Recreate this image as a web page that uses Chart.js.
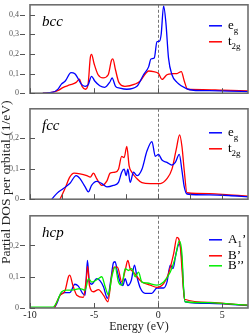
<!DOCTYPE html>
<html>
<head>
<meta charset="utf-8">
<script src="https://cdn.jsdelivr.net/npm/chart.js@4.4.0/dist/chart.umd.min.js"></script>
<style>
  body { margin: 0; background: #fff; }
  #wrap { position: relative; width: 249px; height: 334px; overflow: hidden; }
  #wrap canvas { position: absolute; left: 0; }
  #ytitle {
    position: absolute; left: -2px; top: 15px; width: 13px; height: 334px;
    writing-mode: vertical-rl; transform: rotate(180deg);
    text-align: center; line-height: 13px;
    font: 13.5px "Liberation Serif", serif; color: #222; white-space: nowrap;
  }
</style>
</head>
<body>
<div id="wrap">
  <canvas id="bcc" width="249" height="98" style="top:0px"></canvas>
  <canvas id="fcc" width="249" height="100" style="top:104px"></canvas>
  <canvas id="hcp" width="249" height="123" style="top:211px"></canvas>
  <div id="ytitle">Partial DOS per orbital (1/eV)</div>
</div>
<script>
// Energy axis
const energyMin = -10;
const energyMax = 7;
const energyTicks = [-10, -5, 0, 5];

// bcc e_g
const bccEgE = [-9.0, -8.2, -7.8, -7.55, -7.25, -6.8, -6.5, -6.25, -6.0, -5.7, -5.47, -5.2, -4.95, -4.56, -4.17, -3.77, -3.6, -3.33, -3.0, -2.45, -1.66, -1.15, -0.75, -0.57, -0.31, -0.1, 0.1, 0.23, 0.42, 0.6, 0.8, 1.07, 1.46, 2.24, 2.75, 4, 5.5, 7];
const bccEgV = [0, 0.005, 0.022, 0.046, 0.062, 0.105, 0.099, 0.075, 0.046, 0.035, 0.042, 0.086, 0.062, 0.038, 0.03, 0.057, 0.078, 0.035, 0.026, 0.02, 0.035, 0.094, 0.134, 0.174, 0.179, 0.262, 0.265, 0.30, 0.445, 0.357, 0.18, 0.094, 0.055, 0.022, 0.015, 0.013, 0.011, 0.008];
// bcc t_2g
const bccT2gE = [-9.0, -8.2, -7.8, -7.4, -6.9, -6.4, -6.15, -5.94, -5.67, -5.47, -5.3, -5.2, -5.0, -4.69, -4.3, -3.9, -3.65, -3.54, -3.33, -3.07, -2.6, -1.82, -1.4, -1.0, -0.75, -0.37, 0.02, 0.29, 0.68, 1.07, 1.46, 1.8, 2.03, 2.29, 3.5, 5, 7];
const bccT2gV = [0, 0.005, 0.014, 0.03, 0.042, 0.055, 0.072, 0.035, 0.02, 0.046, 0.18, 0.198, 0.15, 0.094, 0.078, 0.094, 0.166, 0.175, 0.118, 0.055, 0.035, 0.046, 0.062, 0.099, 0.113, 0.11, 0.1, 0.07, 0.094, 0.099, 0.1, 0.11, 0.062, 0.02, 0.018, 0.015, 0.012];

// fcc e_g
const fccEgE = [-8.3, -7.9, -7.4, -6.9, -6.4, -6.1, -5.7, -5.45, -5.2, -4.8, -4.4, -4.0, -3.5, -3.1, -2.85, -2.66, -2.5, -2.37, -2.19, -1.93, -1.66, -1.27, -0.88, -0.49, -0.23, 0.02, 0.29, 0.68, 1.07, 1.33, 1.64, 1.85, 2.03, 2.24, 4, 5.5, 7];
const fccEgV = [0, 0.019, 0.035, 0.051, 0.077, 0.067, 0.04, 0.024, 0.045, 0.058, 0.051, 0.04, 0.045, 0.055, 0.088, 0.098, 0.077, 0.098, 0.055, 0.088, 0.077, 0.098, 0.157, 0.188, 0.14, 0.146, 0.128, 0.12, 0.111, 0.12, 0.146, 0.093, 0.04, 0.017, 0.014, 0.012, 0.008];
// fcc t_2g
const fccT2gE = [-7.66, -7.27, -6.9, -6.56, -6.1, -5.57, -5.3, -5.05, -4.8, -4.4, -4.0, -3.75, -3.36, -3.1, -2.85, -2.66, -2.45, -2.27, -2.06, -1.66, -1.27, -0.62, 0.16, 0.68, 1.07, 1.4, 1.67, 1.85, 2.03, 2.24, 4, 5.5, 7];
const fccT2gV = [0, 0.035, 0.072, 0.085, 0.083, 0.077, 0.072, 0.085, 0.067, 0.045, 0.06, 0.085, 0.088, 0.098, 0.14, 0.136, 0.172, 0.109, 0.088, 0.067, 0.054, 0.051, 0.051, 0.067, 0.098, 0.162, 0.21, 0.172, 0.093, 0.021, 0.018, 0.014, 0.01];

// hcp A_1'
const hcpA1E = [-8.1, -7.9, -7.66, -7.27, -6.9, -6.5, -6.23, -5.9, -5.7, -5.52, -5.37, -5.18, -4.8, -4.53, -4.27, -3.96, -3.7, -3.49, -3.36, -3.18, -2.97, -2.76, -2.58, -2.37, -2.1, -1.85, -1.66, -1.4, -1.02, -0.5, -0.1, 0.42, 0.68, 0.94, 1.15, 1.38, 1.64, 1.85, 1.98, 2.1, 4, 5.5, 7];
const hcpA1V = [0, 0.015, 0.041, 0.049, 0.049, 0.076, 0.07, 0.047, 0.041, 0.152, 0.083, 0.076, 0.094, 0.087, 0.068, 0.031, 0.089, 0.145, 0.148, 0.114, 0.083, 0.072, 0.094, 0.072, 0.089, 0.137, 0.1, 0.064, 0.047, 0.047, 0.064, 0.064, 0.083, 0.137, 0.126, 0.173, 0.205, 0.152, 0.057, 0.02, 0.015, 0.012, 0.008];
// hcp B'
const hcpB1E = [-8.1, -7.9, -7.66, -7.27, -7.0, -6.9, -6.66, -6.35, -5.84, -5.62, -5.5, -5.37, -5.05, -4.66, -4.27, -3.93, -3.62, -3.44, -3.18, -2.84, -2.58, -2.37, -2.19, -1.93, -1.66, -1.27, -0.62, -0.1, 0.42, 0.8, 1.2, 1.46, 1.72, 1.93, 2.05, 4, 5.5, 7];
const hcpB1V = [0, 0.02, 0.04, 0.055, 0.1, 0.105, 0.073, 0.041, 0.034, 0.089, 0.133, 0.073, 0.052, 0.059, 0.041, 0.02, 0.105, 0.131, 0.131, 0.083, 0.12, 0.152, 0.126, 0.115, 0.1, 0.083, 0.073, 0.066, 0.078, 0.11, 0.173, 0.226, 0.196, 0.079, 0.028, 0.018, 0.013, 0.009];
// hcp B''
const hcpB2E = [-10, -8.2, -7.9, -7.53, -7.14, -6.75, -6.1, -5.7, -5.44, -5.18, -4.66, -4.4, -4.14, -3.88, -3.62, -3.36, -3.1, -2.84, -2.58, -2.32, -2.06, -1.8, -1.54, -1.27, -0.88, -0.1, 0.42, 0.94, 1.33, 1.64, 1.85, 1.98, 2.1, 4, 5.5, 7];
const hcpB2V = [0.003, 0.003, 0.02, 0.052, 0.057, 0.057, 0.062, 0.057, 0.094, 0.083, 0.094, 0.1, 0.068, 0.041, 0.1, 0.131, 0.083, 0.073, 0.126, 0.12, 0.126, 0.1, 0.115, 0.083, 0.08, 0.073, 0.083, 0.115, 0.162, 0.215, 0.173, 0.062, 0.02, 0.017, 0.013, 0.009];

const COLORS = { blue: '#0000ff', red: '#ff0000', green: '#00ee00' };
const SERIF = '"Liberation Serif", "DejaVu Serif", serif';

const toPoints = (xs, ys) => xs.map((x, i) => ({ x, y: ys[i] }));

/**
 * Frame, inward ticks, zero line, panel label and legend with subscripts
 */
const panelDecor = {
  id: 'panelDecor',
  beforeDatasetsDraw(chart) {
    const { ctx, chartArea: a, scales } = chart;
    const x0 = Math.round(scales.x.getPixelForValue(0)) + 0.5;
    ctx.save();
    ctx.strokeStyle = '#777';
    ctx.lineWidth = 1;
    ctx.setLineDash([3, 2]);
    ctx.beginPath();
    ctx.moveTo(x0, a.top);
    ctx.lineTo(x0, a.bottom);
    ctx.stroke();
    ctx.restore();
  },
  afterDatasetsDraw(chart, args, opts) {
    const { ctx, chartArea: a, scales } = chart;
    ctx.save();
    ctx.strokeStyle = '#6e6e6e';
    ctx.lineWidth = 1.6;
    ctx.strokeRect(a.left, a.top, a.right - a.left, a.bottom - a.top);

    ctx.lineWidth = 1;
    ctx.strokeStyle = '#555';
    ctx.beginPath();
    scales.x.ticks.forEach(t => {
      const px = Math.round(scales.x.getPixelForValue(t.value)) + 0.5;
      ctx.moveTo(px, a.bottom);
      ctx.lineTo(px, a.bottom - 5);
    });
    scales.y.ticks.forEach(t => {
      const py = Math.round(scales.y.getPixelForValue(t.value)) + 0.5;
      ctx.moveTo(a.left, py);
      ctx.lineTo(a.left + 5, py);
      ctx.moveTo(a.left - 10, py);
      ctx.lineTo(a.left - 5, py);
    });
    ctx.stroke();

    // panel label
    ctx.fillStyle = '#000';
    ctx.font = `italic 15px ${SERIF}`;
    ctx.textBaseline = 'alphabetic';
    ctx.fillText(opts.label, a.left + 12, a.top + 21);

    // legend
    const lx = a.right - 39;
    opts.legend.forEach((item, i) => {
      const ly = a.top + opts.legendOffsets[i];
      ctx.strokeStyle = item.color;
      ctx.lineWidth = 1.5;
      ctx.beginPath();
      ctx.moveTo(lx, ly);
      ctx.lineTo(lx + 13, ly);
      ctx.stroke();
      let tx = lx + 19;
      ctx.fillStyle = '#000';
      ctx.font = `13px ${SERIF}`;
      ctx.fillText(item.main, tx, ly + 3);
      tx += ctx.measureText(item.main).width;
      if (item.sub) {
        ctx.font = `9px ${SERIF}`;
        ctx.fillText(item.sub, tx, ly + 7);
        tx += ctx.measureText(item.sub).width;
      }
      if (item.after) {
        ctx.font = `13px ${SERIF}`;
        ctx.fillText(item.after, tx, ly + 3);
      }
    });
    ctx.restore();
  }
};

function lineSet(xs, ys, color, order) {
  return {
    data: toPoints(xs, ys),
    borderColor: color,
    borderWidth: 1.3,
    pointRadius: 0,
    fill: false,
    cubicInterpolationMode: 'monotone',
    order
  };
}

function makePanel(id, datasets, cfg) {
  const ctx = document.getElementById(id);
  return new Chart(ctx, {
    type: 'line',
    data: { datasets },
    options: {
      responsive: false,
      animation: false,
      layout: { padding: { top: cfg.padTop, right: 1, left: 0, bottom: 0 } },
      plugins: {
        legend: { display: false },
        tooltip: { enabled: false },
        panelDecor: { label: cfg.label, legend: cfg.legend, legendOffsets: cfg.legendOffsets }
      },
      scales: {
        x: {
          type: 'linear',
          min: energyMin,
          max: energyMax,
          grid: { display: false, drawTicks: false, tickLength: 0 },
          border: { display: false },
          afterBuildTicks: cfg.xStep ? undefined : (scale) => {
            scale.ticks = energyTicks.map(v => ({ value: v }));
          },
          ticks: {
            display: cfg.showX,
            stepSize: cfg.xStep || 5,
            includeBounds: false,
            padding: 1,
            color: '#222',
            font: { family: SERIF, size: 10 },
            maxRotation: 0,
            callback: v => String(v)
          },
          title: {
            display: cfg.showX,
            text: 'Energy (eV)',
            color: '#222',
            padding: 0,
            font: { family: SERIF, size: 12 }
          },
          afterFit: (scale) => { scale.height = cfg.xHeight; }
        },
        y: {
          min: 0,
          max: cfg.yMax,
          grid: { display: false, drawTicks: true, tickLength: 11 },
          border: { display: false },
          ticks: {
            stepSize: 0.1,
            includeBounds: false,
            padding: 0,
            color: '#555',
            font: { family: SERIF, size: 8 },
            callback: v => {
              const r = Math.round(v * 10) / 10;
              return r === 0 ? '0' : r.toFixed(1).replace('.', ',');
            }
          },
          afterFit: (scale) => { scale.width = 30; }
        }
      }
    },
    plugins: [panelDecor]
  });
}

makePanel('bcc', [
  lineSet(bccEgE, bccEgV, COLORS.blue, 0),
  lineSet(bccT2gE, bccT2gV, COLORS.red, 1)
], {
  label: 'bcc', padTop: 1, xHeight: 3, yMax: 0.45, showX: false,
  legendOffsets: [21, 37],
  legend: [
    { color: COLORS.blue, main: 'e', sub: 'g' },
    { color: COLORS.red, main: 't', sub: '2g' }
  ]
});

makePanel('fcc', [
  lineSet(fccEgE, fccEgV, COLORS.blue, 0),
  lineSet(fccT2gE, fccT2gV, COLORS.red, 1)
], {
  label: 'fcc', padTop: 4, xHeight: 3, yMax: 0.295, showX: false, xStep: 2.5,
  legendOffsets: [24, 40],
  legend: [
    { color: COLORS.blue, main: 'e', sub: 'g' },
    { color: COLORS.red, main: 't', sub: '2g' }
  ]
});

makePanel('hcp', [
  lineSet(hcpA1E, hcpA1V, COLORS.blue, 2),
  lineSet(hcpB1E, hcpB1V, COLORS.red, 1),
  lineSet(hcpB2E, hcpB2V, COLORS.green, 0)
], {
  label: 'hcp', padTop: 4, xHeight: 26, yMax: 0.295, showX: true,
  legendOffsets: [24, 40, 50],
  legend: [
    { color: COLORS.blue, main: 'A', sub: '1', after: '\u2019' },
    { color: COLORS.red, main: 'B\u2019' },
    { color: COLORS.green, main: 'B\u2019\u2019' }
  ]
});
</script>
</body>
</html>
